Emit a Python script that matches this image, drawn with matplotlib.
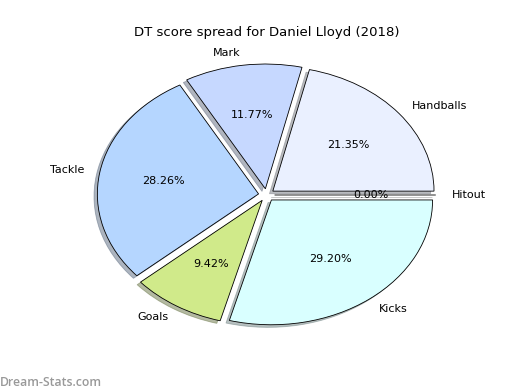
import matplotlib
matplotlib.use('Agg')
import matplotlib.pyplot as plt

# 数据
labels = ['Handballs', 'Mark', 'Tackle', 'Goals', 'Kicks', 'Hitout']
values = [21.35, 11.77, 28.26, 9.42, 29.20, 0.00]
colors = ['#eaf0ff', '#c6d8ff', '#b5d6ff', '#d0ea8a', '#d9ffff', '#ffffff']
explode = [0.05] * len(values)

fig = plt.figure(figsize=(5.2, 3.9), dpi=100)
ax = fig.add_axes([0.125, 0.1, 0.775, 0.8])

wedges, texts, autotexts = ax.pie(values, labels=labels, colors=colors, explode=explode,
                                  autopct='%1.2f%%', startangle=0,
                                  shadow={'ox': -0.015, 'oy': -0.015, 'shade': 0.5},
                                  wedgeprops={'edgecolor': 'black', 'linewidth': 0.6},
                                  textprops={'fontsize': 8})
# 椭圆形饼图
ax.set_aspect('auto')
ax.set_xlim(-1.25, 1.25)
ax.set_ylim(-1.25, 1.25)
ax.set_title('DT score spread for Daniel Lloyd (2018)', fontsize=9.5, pad=2)

# 水印
fig.text(0.0, 0.01, 'Dream-Stats.com', color='#999999', fontsize=8.8, fontweight='semibold', family='Open Sans')

fig.savefig('out.png', dpi=100)
